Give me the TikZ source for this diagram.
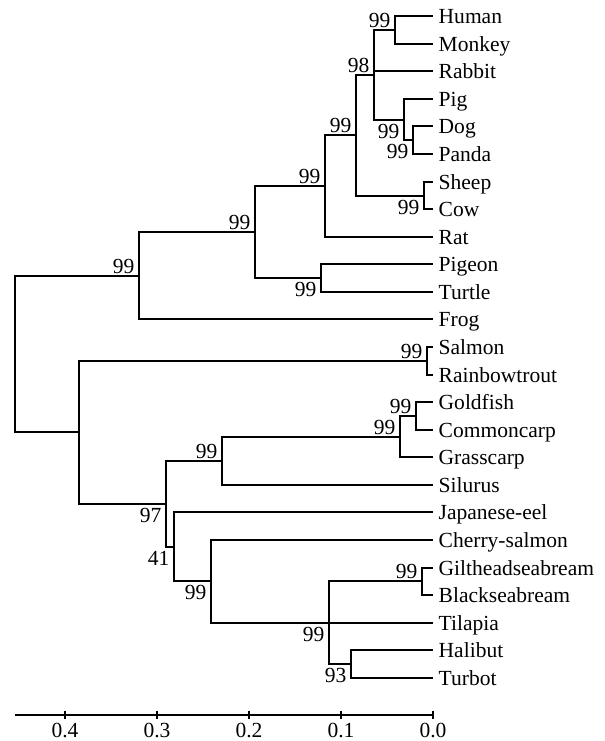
\documentclass[tikz,border=0pt]{standalone}
\usepackage{fontspec}
\setmainfont{Liberation Serif}
\usetikzlibrary{calc}

\begin{document}
\begin{tikzpicture}[x=1bp, y=-1bp,
  every node/.style={font=\fontsize{21.6}{26}\selectfont, inner sep=0pt},
  branch/.style={line width=1.6bp, line join=miter, shift={(0.5,0.5)}},
  leaf/.style={anchor=base west, xshift=5.5bp, yshift=-7.6bp},
  bsup/.style={anchor=south east, xshift=-4.5bp, yshift=2bp},
  bsdn/.style={anchor=north east, xshift=-4.5bp, yshift=-4bp},
  axisline/.style={line width=1.6bp, shift={(0.5,0.5)}},
  ticklabel/.style={anchor=north}]
\useasboundingbox (0,0) rectangle (605,741);

% leaf tips (distance 0.0)
\coordinate (tHuman)   at (433, 16);
\coordinate (tMonkey)  at (433, 44);
\coordinate (tRabbit)  at (433, 71);
\coordinate (tPig)     at (433, 99);
\coordinate (tDog)     at (433,126);
\coordinate (tPanda)   at (433,154);
\coordinate (tSheep)   at (433,182);
\coordinate (tCow)     at (433,209);
\coordinate (tRat)     at (433,237);
\coordinate (tPigeon)  at (433,264);
\coordinate (tTurtle)  at (433,292);
\coordinate (tFrog)    at (433,319);
\coordinate (tSalmon)  at (433,347);
\coordinate (tRainbow) at (433,375);
\coordinate (tGold)    at (433,402);
\coordinate (tCommon)  at (433,430);
\coordinate (tGrass)   at (433,457);
\coordinate (tSilurus) at (433,485);
\coordinate (tEel)     at (433,512);
\coordinate (tCherry)  at (433,540);
\coordinate (tGilt)    at (433,568);
\coordinate (tBlack)   at (433,595);
\coordinate (tTilapia) at (433,623);
\coordinate (tHalibut) at (433,650);
\coordinate (tTurbot)  at (433,678);

% internal nodes
\coordinate (nHM)   at (395,30);
\coordinate (nDP)   at (413,140);
\coordinate (nPDP)  at (404,120);
\coordinate (nMam)  at (374,75);
\coordinate (nSC)   at (424,196);
\coordinate (nEuth) at (356,135);
\coordinate (nRod)  at (325,186);
\coordinate (nPT)   at (321,278);
\coordinate (nAmn)  at (255,232);
\coordinate (nTet)  at (139,276);
\coordinate (nSR)   at (427,361);
\coordinate (nGC)   at (416,416);
\coordinate (nCarp) at (400,437);
\coordinate (nOst)  at (222,461);
\coordinate (nGB)   at (422,581);
\coordinate (nHT)   at (351,664);
\coordinate (nPerc) at (329,623);
\coordinate (nCher) at (211,581);
\coordinate (nEel)  at (174,547);
\coordinate (nTel)  at (166,504);
\coordinate (nFish) at (79,432);
\coordinate (nRoot) at (15,354);

% branches
\begin{scope}[branch]
  \draw (nHM) |- (tHuman);  \draw (nHM) |- (tMonkey);
  \draw (nDP) |- (tDog);    \draw (nDP) |- (tPanda);
  \draw (nPDP) |- (tPig);   \draw (nPDP) |- (nDP);
  \draw (nMam) |- (nHM);    \draw (nMam) |- (tRabbit);  \draw (nMam) |- (nPDP);
  \draw (nSC) |- (tSheep);  \draw (nSC) |- (tCow);
  \draw (nEuth) |- (nMam);  \draw (nEuth) |- (nSC);
  \draw (nRod) |- (nEuth);  \draw (nRod) |- (tRat);
  \draw (nPT) |- (tPigeon); \draw (nPT) |- (tTurtle);
  \draw (nAmn) |- (nRod);   \draw (nAmn) |- (nPT);
  \draw (nTet) |- (nAmn);   \draw (nTet) |- (tFrog);
  \draw (nSR) |- (tSalmon); \draw (nSR) |- (tRainbow);
  \draw (nGC) |- (tGold);   \draw (nGC) |- (tCommon);
  \draw (nCarp) |- (nGC);   \draw (nCarp) |- (tGrass);
  \draw (nOst) |- (nCarp);  \draw (nOst) |- (tSilurus);
  \draw (nGB) |- (tGilt);   \draw (nGB) |- (tBlack);
  \draw (nHT) |- (tHalibut);\draw (nHT) |- (tTurbot);
  \draw (nPerc) |- (nGB);   \draw (nPerc) -- (tTilapia); \draw (nPerc) |- (nHT);
  \draw (nCher) |- (tCherry); \draw (nCher) |- (nPerc);
  \draw (nEel) |- (tEel);   \draw (nEel) |- (nCher);
  \draw (nTel) |- (nOst);   \draw (nTel) |- (nEel);
  \draw (nFish) |- (nSR);   \draw (nFish) |- (nTel);
  \draw (nRoot) |- (nTet);  \draw (nRoot) |- (nFish);
\end{scope}

% taxon names
\node[leaf] (Human)   at (tHuman)   {Human};
\node[leaf] (Monkey)  at (tMonkey)  {Monkey};
\node[leaf] (Rabbit)  at (tRabbit)  {Rabbit};
\node[leaf] (Pig)     at (tPig)     {Pig};
\node[leaf] (Dog)     at (tDog)     {Dog};
\node[leaf] (Panda)   at (tPanda)   {Panda};
\node[leaf] (Sheep)   at (tSheep)   {Sheep};
\node[leaf] (Cow)     at (tCow)     {Cow};
\node[leaf] (Rat)     at (tRat)     {Rat};
\node[leaf] (Pigeon)  at (tPigeon)  {Pigeon};
\node[leaf] (Turtle)  at (tTurtle)  {Turtle};
\node[leaf] (Frog)    at (tFrog)    {Frog};
\node[leaf] (Salmon)  at (tSalmon)  {Salmon};
\node[leaf] (Rainbow) at (tRainbow) {Rainbowtrout};
\node[leaf] (Gold)    at (tGold)    {Goldfish};
\node[leaf] (Common)  at (tCommon)  {Commoncarp};
\node[leaf] (Grass)   at (tGrass)   {Grasscarp};
\node[leaf] (Silurus) at (tSilurus) {Silurus};
\node[leaf] (Eel)     at (tEel)     {Japanese-eel};
\node[leaf] (Cherry)  at (tCherry)  {Cherry-salmon};
\node[leaf] (Gilt)    at (tGilt)    {Giltheadseabream};
\node[leaf] (Black)   at (tBlack)   {Blackseabream};
\node[leaf] (Tilapia) at (tTilapia) {Tilapia};
\node[leaf] (Halibut) at (tHalibut) {Halibut};
\node[leaf] (Turbot)  at (tTurbot)  {Turbot};

% bootstrap values
\node[bsup] (bHM)   at (nHM)   {99};
\node[bsup] (bMam)  at (nMam)  {98};
\node[bsdn] (bPDP)  at (nPDP)  {99};
\node[bsdn] (bDP)   at (nDP)   {99};
\node[bsup] (bEuth) at (nEuth) {99};
\node[bsdn] (bSC)   at (nSC)   {99};
\node[bsup] (bRod)  at (nRod)  {99};
\node[bsdn] (bPT)   at (nPT)   {99};
\node[bsup] (bAmn)  at (nAmn)  {99};
\node[bsup] (bTet)  at (nTet)  {99};
\node[bsup] (bSR)   at (nSR)   {99};
\node[bsup] (bGC)   at (nGC)   {99};
\node[bsup] (bCarp) at (nCarp) {99};
\node[bsup] (bOst)  at (nOst)  {99};
\node[bsup] (bGB)   at (nGB)   {99};
\node[bsdn] (bPerc) at (nPerc) {99};
\node[bsdn] (bHT)   at (nHT)   {93};
\node[bsdn] (bTel)  at (nTel)  {97};
\node[bsdn] (bEel)  at (nEel)  {41};
\node[bsdn] (bCher) at (nCher) {99};

% distance scale
\coordinate (aL) at (15,715);
\coordinate (aR) at (433,715);
\draw[axisline] (aL) -- (aR);
\foreach \d/\lab in {0/0.0, 1/0.1, 2/0.2, 3/0.3, 4/0.4} {
  \coordinate (k\d) at ($(aR)+(-92*\d,0)$);
  \draw[axisline] ($(k\d)+(0,-4)$) -- ($(k\d)+(0,4)$);
  \node[ticklabel] (l\d) at ($(k\d)+(0,7.5)$) {\lab};
}
\end{tikzpicture}
\end{document}
